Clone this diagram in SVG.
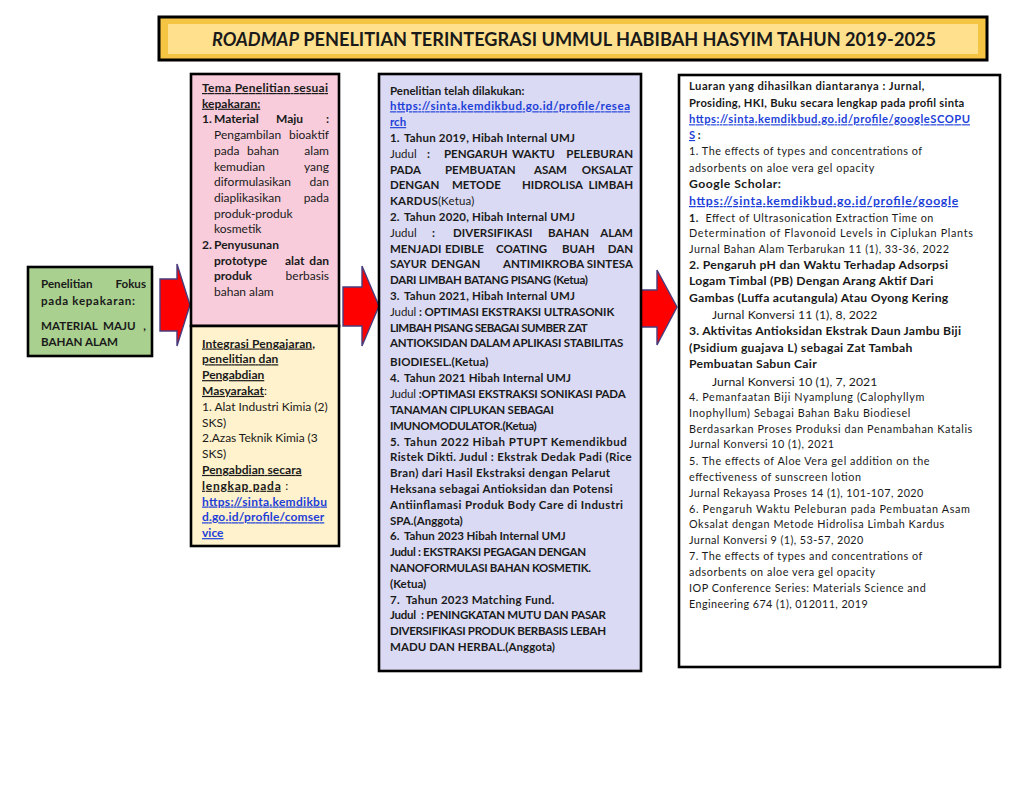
<svg xmlns="http://www.w3.org/2000/svg" width="1024" height="791" viewBox="0 0 1024 791">
<style>
text{font-family:Lato,'Liberation Sans',sans-serif;font-size:11px;fill:#1a1a1a}
#node-fokus text{font-size:11.6px}
#node-tema text,#node-integrasi text{font-size:12px}
#node-penelitian text{font-size:11.5px}
.b{font-weight:bold}
.u{text-decoration:underline}
.lk{fill:#1D3FD8;text-decoration:underline;font-weight:bold}
.box{stroke:#000;stroke-width:2.6}
.arrow{fill:#FF0000;stroke:#4A3C7C;stroke-width:1.4}
#node-luaran .r{font-size:10.8px}
#node-luaran .s{font-size:11.2px}
#node-luaran .big{font-size:12.2px}
</style>
<rect width="1024" height="791" fill="#fff"/>
<g id="title">
<rect x="159" y="17" width="828" height="43" fill="#F5C443" stroke="#000" stroke-width="3"/>
<rect x="168" y="24" width="810" height="30" fill="#FFE08C"/>
<text x="212" y="46" textLength="724" lengthAdjust="spacingAndGlyphs" style="font-size:18.5px;font-weight:bold"><tspan font-style="italic">ROADMAP</tspan> PENELITIAN TERINTEGRASI UMMUL HABIBAH HASYIM TAHUN 2019-2025</text>
</g>
<g id="connectors">
<polygon class="arrow" points="160,279 177,279 177,264 190,305 177,346 177,331 160,331"/>
<polygon class="arrow" points="343,287 362,287 362,266 379,306 362,346 362,326 343,326"/>
<polygon class="arrow" points="638,290 657,290 657,270 677,307 657,345 657,327 638,327"/>
</g>
<g id="node-fokus">
<rect class="box" x="28" y="267" width="124" height="89" fill="#A9D08E"/>
<text class="b" y="288"><tspan x="41">Penelitian</tspan><tspan x="146" text-anchor="end">Fokus</tspan></text>
<text class="b" x="41" y="305" textLength="94" lengthAdjust="spacing">pada kepakaran:</text>
<text class="b" x="41" y="330">MATERIAL</text>
<text class="b" x="103" y="330">MAJU</text>
<text class="b" x="146" y="330" text-anchor="end">,</text>
<text class="b" x="41" y="346">BAHAN ALAM</text>
</g>
<g id="node-tema">
<rect class="box" x="191" y="74" width="148" height="252" fill="#F8CCDB"/>
<text class="b u" x="202" y="92" textLength="126" lengthAdjust="spacing">Tema Penelitian sesuai</text>
<text class="b u" x="202" y="107.7">kepakaran:</text>
<text class="b" y="123.4"><tspan x="202">1.</tspan><tspan x="214">Material</tspan><tspan x="276">Maju</tspan><tspan x="329" text-anchor="end">:</tspan></text>
<text y="139.1"><tspan x="214">Pengambilan</tspan><tspan x="329" text-anchor="end">bioaktif</tspan></text>
<text y="154.8"><tspan x="214">pada</tspan><tspan x="247">bahan</tspan><tspan x="329" text-anchor="end">alam</tspan></text>
<text y="170.5"><tspan x="214">kemudian</tspan><tspan x="329" text-anchor="end">yang</tspan></text>
<text y="186.2"><tspan x="214">diformulasikan</tspan><tspan x="329" text-anchor="end">dan</tspan></text>
<text y="201.9"><tspan x="214">diaplikasikan</tspan><tspan x="329" text-anchor="end">pada</tspan></text>
<text x="214" y="217.6">produk-produk</text>
<text x="214" y="233.3">kosmetik</text>
<text class="b" x="202" y="249">2.</text>
<text class="b" x="214" y="249">Penyusunan</text>
<text class="b" y="264.7"><tspan x="214">prototype</tspan><tspan x="285">alat</tspan><tspan x="329" text-anchor="end">dan</tspan></text>
<text y="280.4"><tspan x="214" class="b">produk</tspan><tspan x="329" text-anchor="end">berbasis</tspan></text>
<text x="214" y="296.1">bahan alam</text>
</g>
<g id="node-integrasi">
<rect class="box" x="191" y="326" width="148" height="220" fill="#FFF2CC"/>
<text class="b u" x="202" y="347.5" textLength="113" lengthAdjust="spacing">Integrasi Pengajaran,</text>
<text class="b u" x="202" y="363.3" textLength="76.3" lengthAdjust="spacing">penelitian dan</text>
<text class="b u" x="202" y="379.1">Pengabdian</text>
<text x="202" y="394.9"><tspan class="b u">Masyarakat</tspan>:</text>
<text x="202" y="410.7" textLength="125.7" lengthAdjust="spacing">1. Alat Industri Kimia (2)</text>
<text x="202" y="426.5">SKS)</text>
<text x="202" y="442.3" textLength="115.7" lengthAdjust="spacing">2.Azas Teknik Kimia (3</text>
<text x="202" y="458.1">SKS)</text>
<text class="b u" x="202" y="473.9" textLength="99.7" lengthAdjust="spacing">Pengabdian secara</text>
<text x="202" y="489.7" textLength="86.3" lengthAdjust="spacing"><tspan class="b u">lengkap pada</tspan> :</text>
<text class="lk" x="202" y="505.5" textLength="125" lengthAdjust="spacing">https://sinta.kemdikbu</text>
<text class="lk" x="202" y="521.3" textLength="122.3" lengthAdjust="spacing">d.go.id/profile/comser</text>
<text class="lk" x="202" y="537.1">vice</text>
</g>
<g id="node-penelitian">
<rect class="box" x="379" y="74" width="262" height="597" fill="#DADAF4"/>
<text class="b" x="390" y="94.5">Penelitian telah dilakukan:</text>
<text class="lk" x="390" y="110.3" textLength="240" lengthAdjust="spacing">https://sinta.kemdikbud.go.id/profile/resea</text>
<text class="lk" x="390" y="126.1">rch</text>
<text class="b" x="390" y="141.9">1.</text>
<text class="b" x="404" y="141.9" textLength="171" lengthAdjust="spacing">Tahun 2019, Hibah Internal UMJ</text>
<text y="157.7"><tspan x="390">Judul</tspan><tspan class="b" x="427">:</tspan><tspan class="b" x="444">PENGARUH</tspan><tspan class="b" x="512">WAKTU</tspan><tspan class="b" x="633" text-anchor="end">PELEBURAN</tspan></text>
<text class="b" y="173.5"><tspan x="390">PADA</tspan><tspan x="445">PEMBUATAN</tspan><tspan x="534">ASAM</tspan><tspan x="633" text-anchor="end">OKSALAT</tspan></text>
<text class="b" y="189.3"><tspan x="390">DENGAN</tspan><tspan x="452">METODE</tspan><tspan x="522">HIDROLISA</tspan><tspan x="633" text-anchor="end">LIMBAH</tspan></text>
<text x="390" y="205.1" textLength="84.3" lengthAdjust="spacing"><tspan class="b">KARDUS</tspan>(Ketua)</text>
<text class="b" x="390" y="220.9">2.</text>
<text class="b" x="404" y="220.9" textLength="171" lengthAdjust="spacing">Tahun 2020, Hibah Internal UMJ</text>
<text y="236.7"><tspan x="390">Judul</tspan><tspan class="b" x="432">:</tspan><tspan class="b" x="453">DIVERSIFIKASI</tspan><tspan class="b" x="548">BAHAN</tspan><tspan class="b" x="633" text-anchor="end">ALAM</tspan></text>
<text class="b" y="252.5"><tspan x="390">MENJADI</tspan><tspan x="445">EDIBLE</tspan><tspan x="496">COATING</tspan><tspan x="562">BUAH</tspan><tspan x="633" text-anchor="end">DAN</tspan></text>
<text class="b" y="268.3"><tspan x="390">SAYUR</tspan><tspan x="431">DENGAN</tspan><tspan x="503">ANTIMIKROBA</tspan><tspan x="633" text-anchor="end">SINTESA</tspan></text>
<text class="b" x="390" y="284.1" textLength="198" lengthAdjust="spacing">DARI LIMBAH BATANG PISANG (Ketua)</text>
<text class="b" x="390" y="299.9">3.</text>
<text class="b" x="404" y="299.9" textLength="171" lengthAdjust="spacing">Tahun 2021, Hibah Internal UMJ</text>
<text x="390" y="315.7" textLength="224.3" lengthAdjust="spacing">Judul <tspan class="b">: OPTIMASI EKSTRAKSI ULTRASONIK</tspan></text>
<text class="b" x="390" y="331.5" textLength="197.7" lengthAdjust="spacing">LIMBAH PISANG SEBAGAI SUMBER ZAT</text>
<text class="b" x="390" y="347.3" textLength="233.3" lengthAdjust="spacing">ANTIOKSIDAN DALAM APLIKASI STABILITAS</text>
<text class="b" x="390" y="366" textLength="98.3" lengthAdjust="spacing">BIODIESEL.(Ketua)</text>
<text class="b" x="390" y="382.3">4.</text>
<text class="b" x="404" y="382.3" textLength="167" lengthAdjust="spacing">Tahun 2021 Hibah Internal UMJ</text>
<text x="390" y="398.2" textLength="235.7" lengthAdjust="spacing">Judul <tspan class="b">:OPTIMASI EKSTRAKSI SONIKASI PADA</tspan></text>
<text class="b" x="390" y="414" textLength="164" lengthAdjust="spacing">TANAMAN CIPLUKAN SEBAGAI</text>
<text class="b" x="390" y="429.8" textLength="146.7" lengthAdjust="spacing">IMUNOMODULATOR.(Ketua)</text>
<text class="b" x="390" y="445.6">5.</text>
<text class="b" x="404" y="445.6" textLength="222.7" lengthAdjust="spacing">Tahun 2022 Hibah PTUPT Kemendikbud</text>
<text class="b" x="390" y="461.4" textLength="241.7" lengthAdjust="spacing">Ristek Dikti. Judul : Ekstrak Dedak Padi (Rice</text>
<text class="b" x="390" y="477.2" textLength="220" lengthAdjust="spacing">Bran) dari Hasil Ekstraksi dengan Pelarut</text>
<text class="b" x="390" y="493" textLength="222.7" lengthAdjust="spacing">Heksana sebagai Antioksidan dan Potensi</text>
<text class="b" x="390" y="508.8" textLength="233" lengthAdjust="spacing">Antiinflamasi Produk Body Care di Industri</text>
<text class="b" x="390" y="524.6">SPA.(Anggota)</text>
<text class="b" x="390" y="540.4">6.</text>
<text class="b" x="404" y="540.4" textLength="161.7" lengthAdjust="spacing">Tahun 2023 Hibah Internal UMJ</text>
<text class="b" x="390" y="556.2" textLength="196" lengthAdjust="spacing">Judul : EKSTRAKSI PEGAGAN DENGAN</text>
<text class="b" x="390" y="572" textLength="201" lengthAdjust="spacing">NANOFORMULASI BAHAN KOSMETIK.</text>
<text class="b" x="390" y="587.8">(Ketua)</text>
<text class="b" x="390" y="603.6" textLength="164.3" lengthAdjust="spacing" xml:space="preserve">7.  Tahun 2023 Matching Fund.</text>
<text class="b" x="390" y="619.4" textLength="216" lengthAdjust="spacing" xml:space="preserve">Judul  : PENINGKATAN MUTU DAN PASAR</text>
<text class="b" x="390" y="635.2" textLength="216" lengthAdjust="spacing">DIVERSIFIKASI PRODUK BERBASIS LEBAH</text>
<text class="b" x="390" y="651" textLength="165" lengthAdjust="spacing">MADU DAN HERBAL.(Anggota)</text>
</g>
<g id="node-luaran">
<rect class="box" x="679" y="75" width="321" height="592" fill="#FFFFFF"/>
<text class="b s" x="689" y="90" textLength="235.3" lengthAdjust="spacing">Luaran yang dihasilkan diantaranya : Jurnal,</text>
<text class="b s" x="689" y="106.7" textLength="275.3" lengthAdjust="spacing">Prosiding, HKI, Buku secara lengkap pada profil sinta</text>
<text class="lk s" x="689" y="123.3" textLength="281" lengthAdjust="spacing">https://sinta.kemdikbud.go.id/profile/googleSCOPU</text>
<text class="b s" x="689" y="139"><tspan class="lk">S</tspan> :</text>
<text class="r" x="689" y="155" textLength="233" lengthAdjust="spacing">1. The effects of types and concentrations of</text>
<text class="r" x="689" y="171.7" textLength="185.3" lengthAdjust="spacing">adsorbents on aloe vera gel opacity</text>
<text class="b big" x="689" y="188.3" textLength="92" lengthAdjust="spacing">Google Scholar:</text>
<text class="lk big" x="689" y="205" textLength="269.3" lengthAdjust="spacing">https://sinta.kemdikbud.go.id/profile/google</text>
<text class="r" x="689" y="221.7" textLength="244.3" lengthAdjust="spacing" xml:space="preserve"><tspan class="b">1.</tspan>  Effect of Ultrasonication Extraction Time on</text>
<text class="r" x="689" y="237" textLength="284" lengthAdjust="spacing">Determination of Flavonoid Levels in Ciplukan Plants</text>
<text class="r" x="689" y="253" textLength="260" lengthAdjust="spacing">Jurnal Bahan Alam Terbarukan 11 (1), 33-36, 2022</text>
<text class="b big" x="689" y="268.5" textLength="259" lengthAdjust="spacing">2. Pengaruh pH dan Waktu Terhadap Adsorpsi</text>
<text class="b big" x="689" y="285" textLength="244.3" lengthAdjust="spacing">Logam Timbal (PB) Dengan Arang Aktif Dari</text>
<text class="b big" x="689" y="301.7" textLength="259.3" lengthAdjust="spacing">Gambas (Luffa acutangula) Atau Oyong Kering</text>
<text class="big" x="712" y="319" textLength="165.3" lengthAdjust="spacing">Jurnal Konversi 11 (1), 8, 2022</text>
<text class="b big" x="689" y="335" textLength="272" lengthAdjust="spacing">3. Aktivitas Antioksidan Ekstrak Daun Jambu Biji</text>
<text class="b big" x="689" y="351.7" textLength="223.3" lengthAdjust="spacing">(Psidium guajava L) sebagai Zat Tambah</text>
<text class="b big" x="689" y="368.3" textLength="127.7" lengthAdjust="spacing">Pembuatan Sabun Cair</text>
<text class="big" x="712" y="385.7" textLength="165.3" lengthAdjust="spacing">Jurnal Konversi 10 (1), 7, 2021</text>
<text class="r" x="689" y="401" textLength="235.3" lengthAdjust="spacing">4. Pemanfaatan Biji Nyamplung (Calophyllym</text>
<text class="r" x="689" y="416.7" textLength="221.3" lengthAdjust="spacing">Inophyllum) Sebagai Bahan Baku Biodiesel</text>
<text class="r" x="689" y="432.7" textLength="283.3" lengthAdjust="spacing">Berdasarkan Proses Produksi dan Penambahan Katalis</text>
<text class="r" x="689" y="448.3" textLength="145" lengthAdjust="spacing">Jurnal Konversi 10 (1), 2021</text>
<text class="r" x="689" y="464.5" textLength="240.5" lengthAdjust="spacing">5. The effects of Aloe Vera gel addition on the</text>
<text class="r" x="689" y="480.5" textLength="172" lengthAdjust="spacing">effectiveness of sunscreen lotion</text>
<text class="r" x="689" y="496.5" textLength="234.3" lengthAdjust="spacing">Jurnal Rekayasa Proses 14 (1), 101-107, 2020</text>
<text class="r" x="689" y="512.5" textLength="281" lengthAdjust="spacing">6. Pengaruh Waktu Peleburan pada Pembuatan Asam</text>
<text class="r" x="689" y="528.3" textLength="255.3" lengthAdjust="spacing">Oksalat dengan Metode Hidrolisa Limbah Kardus</text>
<text class="r" x="689" y="544" textLength="174.3" lengthAdjust="spacing">Jurnal Konversi 9 (1), 53-57, 2020</text>
<text class="r" x="689" y="560" textLength="233.3" lengthAdjust="spacing">7. The effects of types and concentrations of</text>
<text class="r" x="689" y="576" textLength="186" lengthAdjust="spacing">adsorbents on aloe vera gel opacity</text>
<text class="r" x="689" y="591.7" textLength="236.7" lengthAdjust="spacing">IOP Conference Series: Materials Science and</text>
<text class="r" x="689" y="607.7" textLength="178.7" lengthAdjust="spacing">Engineering 674 (1), 012011, 2019</text>
</g>
</svg>
